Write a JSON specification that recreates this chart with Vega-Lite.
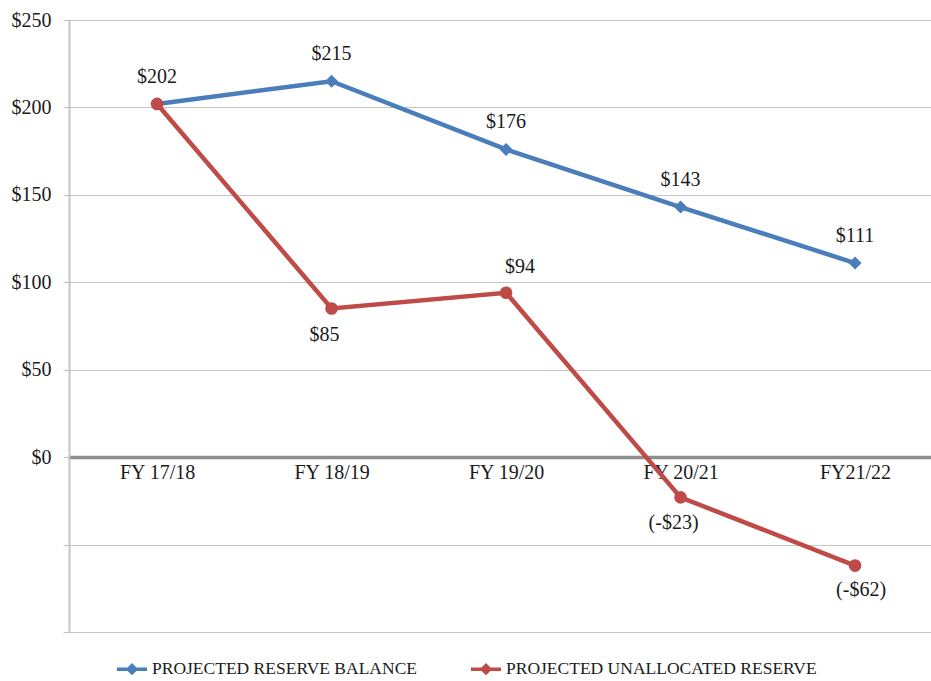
{
  "$schema": "https://vega.github.io/schema/vega-lite/v6.json",
  "width": 862,
  "height": 612,
  "autosize": {"type": "none"},
  "padding": {"left": 69, "top": 20, "right": 0, "bottom": 49},
  "background": "white",
  "config": {
    "view": {"stroke": null},
    "font": "Liberation Serif"
  },
  "data": {
    "values": [
      {"year": "FY 17/18", "series": "Projected Reserve Balance", "value": 202, "label": "$202"},
      {"year": "FY 18/19", "series": "Projected Reserve Balance", "value": 215, "label": "$215"},
      {"year": "FY 19/20", "series": "Projected Reserve Balance", "value": 176, "label": "$176"},
      {"year": "FY 20/21", "series": "Projected Reserve Balance", "value": 143, "label": "$143"},
      {"year": "FY21/22", "series": "Projected Reserve Balance", "value": 111, "label": "$111"},
      {"year": "FY 17/18", "series": "Projected Unallocated Reserve", "value": 202, "label": ""},
      {"year": "FY 18/19", "series": "Projected Unallocated Reserve", "value": 85, "label": "$85"},
      {"year": "FY 19/20", "series": "Projected Unallocated Reserve", "value": 94, "label": "$94"},
      {"year": "FY 20/21", "series": "Projected Unallocated Reserve", "value": -23, "label": "(-$23)"},
      {"year": "FY21/22", "series": "Projected Unallocated Reserve", "value": -62, "label": "(-$62)"}
    ]
  },
  "encoding": {
    "x": {
      "field": "year", "type": "ordinal", "sort": null,
      "scale": {"type": "point", "padding": 0.47, "align": 0.537},
      "axis": {
        "title": null, "orient": "bottom", "offset": -175, "labelAngle": 0,
        "ticks": false, "grid": false,
        "domainColor": "#8f8f8f", "domainWidth": 3.5,
        "labelFont": "Liberation Serif", "labelFontSize": 20, "labelColor": "#1a1a1a",
        "labelPadding": 5
      }
    },
    "y": {
      "field": "value", "type": "quantitative",
      "scale": {"domain": [-100, 250], "nice": false, "zero": false},
      "axis": {
        "title": null, "values": [-100, -50, 0, 50, 100, 150, 200, 250],
        "labelExpr": "datum.value < 0 ? '' : '$' + datum.value",
        "grid": true, "gridColor": "#c4c4c4", "gridWidth": 1.2,
        "domainColor": "#c4c4c4", "domainWidth": 2,
        "tickColor": "#c4c4c4", "tickSize": 6, "tickWidth": 1.2,
        "labelFont": "Liberation Serif", "labelFontSize": 20, "labelColor": "#1a1a1a",
        "labelPadding": 12
      }
    }
  },
  "layer": [
    {
      "mark": {"type": "line", "strokeWidth": 4.5},
      "encoding": {
        "color": {
          "field": "series", "type": "nominal",
          "scale": {"domain": ["Projected Reserve Balance", "Projected Unallocated Reserve"], "range": ["#4A7EBB", "#BE4B48"]},
          "legend": {
            "title": null, "orient": "none", "direction": "horizontal",
            "legendX": 46, "legendY": 632,
            "symbolType": "M-1,0H1M0,-0.25L0.25,0L0,0.25L-0.25,0Z",
            "symbolSize": 900, "symbolStrokeWidth": 3.5,
            "labelFont": "Liberation Serif", "labelFontSize": 17.5, "labelColor": "#1a1a1a",
            "labelExpr": "upper(datum.label)", "labelLimit": 0,
            "columnPadding": 46, "labelOffset": 3
          }
        }
      }
    },
    {
      "transform": [{"filter": "datum.series == 'Projected Reserve Balance'"}],
      "mark": {"type": "point", "filled": true, "opacity": 1, "shape": "diamond", "size": 170},
      "encoding": {"color": {"field": "series", "type": "nominal"}}
    },
    {
      "transform": [{"filter": "datum.series == 'Projected Unallocated Reserve'"}],
      "mark": {"type": "point", "filled": true, "opacity": 1, "shape": "circle", "size": 160},
      "encoding": {"color": {"field": "series", "type": "nominal"}}
    },
    {
      "transform": [{"filter": "datum.series == 'Projected Reserve Balance'"}],
      "mark": {"type": "text", "dy": -27, "fontSize": 20, "font": "Liberation Serif", "color": "#1a1a1a"},
      "encoding": {"text": {"field": "label"}}
    },
    {
      "transform": [{"filter": "datum.series == 'Projected Unallocated Reserve' && datum.year == 'FY 19/20'"}],
      "mark": {"type": "text", "dy": -26, "dx": 14, "fontSize": 20, "font": "Liberation Serif", "color": "#1a1a1a"},
      "encoding": {"text": {"field": "label"}}
    },
    {
      "transform": [{"filter": "datum.series == 'Projected Unallocated Reserve' && (datum.year == 'FY 18/19' || datum.year == 'FY 20/21')"}],
      "mark": {"type": "text", "dy": 26, "dx": -7, "fontSize": 20, "font": "Liberation Serif", "color": "#1a1a1a"},
      "encoding": {"text": {"field": "label"}}
    },
    {
      "transform": [{"filter": "datum.series == 'Projected Unallocated Reserve' && datum.year == 'FY21/22'"}],
      "mark": {"type": "text", "dy": 24, "dx": 6, "fontSize": 20, "font": "Liberation Serif", "color": "#1a1a1a"},
      "encoding": {"text": {"field": "label"}}
    }
  ]
}
